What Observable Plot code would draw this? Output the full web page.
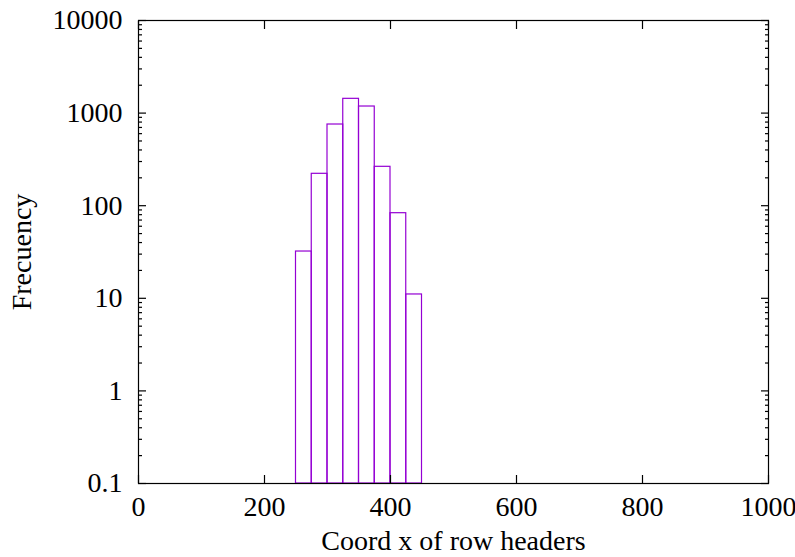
<!DOCTYPE html>
<html><head><meta charset="utf-8">
<script src="https://cdn.jsdelivr.net/npm/d3@7"></script>
<script src="https://cdn.jsdelivr.net/npm/@observablehq/plot@0.6"></script>
<style>body{margin:0;background:#fff} svg{display:block}</style>
</head><body><div id="chart"></div>
<script>
const binStarts = [250, 275, 300, 325, 350, 375, 400, 425];
const binWidth = 25;
const counts = [32, 221, 753, 1426, 1178, 263, 83, 11];
const xTicks = [0, 200, 400, 600, 800, 1000];
const xTickLabels = ["0", "200", "400", "600", "800", "1000"];
const yTicks = [0.1, 1, 10, 100, 1000, 10000];
const yTickLabels = ["0.1", "1", "10", "100", "1000", "10000"];
const minorMultipliers = [2, 3, 4, 5, 6, 7, 8, 9];
const xLabel = "Coord x of row headers";
const yLabel = "Frecuency";
const baseline = 0.1;

const bins = binStarts.map((s, i) => ({x1: s, x2: s + binWidth, y1: baseline, y2: counts[i]}));
const yMinor = yTicks.slice(0, -1).flatMap(t => minorMultipliers.map(m => t * m));
const color = "#9400d3";

const major = 8, minor = 4;
const fs = 28;
const blank = () => "";

const chart = Plot.plot({
  width: 795, height: 557,
  marginLeft: 138, marginRight: 27, marginTop: 20, marginBottom: 74,
  style: {fontFamily: "'Liberation Serif', serif", fontSize: fs + "px", color: "#000", background: "#fff"},
  x: {domain: [0, 1000], label: null},
  y: {type: "log", domain: [0.1, 10000], label: null},
  marks: [
    Plot.rect(bins, {x1: "x1", x2: "x2", y1: "y1", y2: "y2", fill: "none", stroke: color, strokeWidth: 1.2}),
    Plot.axisX({ticks: xTicks, tickSize: 0, tickPadding: 13, tickFormat: d => xTickLabels[xTicks.indexOf(d)], label: null}),
    Plot.axisY({ticks: yTicks, tickSize: 0, tickPadding: 16, tickFormat: d => yTickLabels[yTicks.indexOf(d)], label: null}),
    // inward ticks (shifted inside the frame)
    Plot.axisX({anchor: "bottom", ticks: xTicks, tickSize: major, dy: -major, tickFormat: blank, label: null, stroke: "#000", strokeWidth: 1.2}),
    Plot.axisX({anchor: "top", ticks: xTicks, tickSize: major, dy: major, tickFormat: blank, label: null, stroke: "#000", strokeWidth: 1.2}),
    Plot.axisY({anchor: "left", ticks: yTicks, tickSize: major, dx: major, tickFormat: blank, label: null, stroke: "#000", strokeWidth: 1.2}),
    Plot.axisY({anchor: "right", ticks: yTicks, tickSize: major, dx: -major, tickFormat: blank, label: null, stroke: "#000", strokeWidth: 1.2}),
    Plot.axisY({anchor: "left", ticks: yMinor, tickSize: minor, dx: minor, tickFormat: blank, label: null, stroke: "#000", strokeWidth: 1.2}),
    Plot.axisY({anchor: "right", ticks: yMinor, tickSize: minor, dx: -minor, tickFormat: blank, label: null, stroke: "#000", strokeWidth: 1.2}),
    Plot.frame({stroke: "#000", strokeWidth: 1.2}),
    Plot.text([xLabel], {frameAnchor: "bottom", dy: 58, lineAnchor: "middle", textAnchor: "middle", text: d => d, fontSize: fs}),
    Plot.text([yLabel], {frameAnchor: "left", dx: -116, rotate: -90, textAnchor: "middle", lineAnchor: "middle", text: d => d, fontSize: fs})
  ]
});
document.getElementById("chart").appendChild(chart);
</script>
</body></html>
